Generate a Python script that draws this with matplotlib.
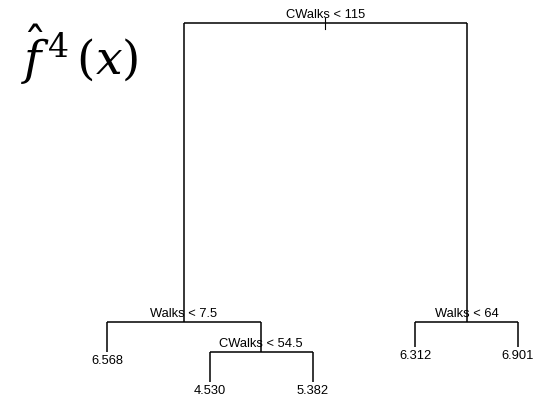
import matplotlib
matplotlib.use("Agg")
import matplotlib.pyplot as plt

# tree layout: leaves are spaced 1..5, heights are deviance-like units
split_labels = ["CWalks < 115", "Walks < 7.5", "CWalks < 54.5", "Walks < 64"]
split_x = [3.125, 1.75, 2.5, 4.5]
split_y = [359, 60, 30, 60]
# children of each split (index into nodes: "s#" split, "l#" leaf)
children = [("s1", "s3"), ("l0", "s2"), ("l1", "l2"), ("l3", "l4")]

leaf_labels = ["6.568", "4.530", "5.382", "6.312", "6.901"]
leaf_x = [1, 2, 3, 4, 5]
leaf_y = [30, 0, 0, 35, 35]

def pos(node):
    i = int(node[1:])
    if node[0] == "s":
        return split_x[i], split_y[i]
    return leaf_x[i], leaf_y[i]

plt.rcParams["mathtext.fontset"] = "dejavuserif"

fig = plt.figure(figsize=(5.33, 4.05), dpi=100)
ax = fig.add_axes([0, 0, 1, 1])
ax.set_xlim(1 - 107 / 102.75, 1 + (533 - 107) / 102.75)
ax.set_ylim(-23, 382)
ax.axis("off")

lw = 1.1
for i, (a, b) in enumerate(children):
    px, py = split_x[i], split_y[i]
    ax.plot([pos(a)[0], pos(b)[0]], [py, py], color="black", lw=lw, solid_capstyle="butt")
    for c in (a, b):
        cx, cy = pos(c)
        ax.plot([cx, cx], [py, cy], color="black", lw=lw, solid_capstyle="butt")

# small stub through the root
ax.plot([split_x[0], split_x[0]], [split_y[0] + 5, split_y[0] - 6], color="black", lw=0.8)

for i, lab in enumerate(split_labels):
    ax.text(split_x[i], split_y[i] + 2, lab, ha="center", va="bottom",
            fontsize=9.3, family="Liberation Sans")

for i, lab in enumerate(leaf_labels):
    ax.text(leaf_x[i], leaf_y[i] - 3, lab, ha="center", va="top",
            fontsize=9.3, family="Liberation Sans")

fig.text(21 / 533, 1 - 75 / 405, r"$\hat{f}^{\,4}\,(x)$", fontsize=34, ha="left", va="baseline")

fig.savefig("out.png", dpi=100)
